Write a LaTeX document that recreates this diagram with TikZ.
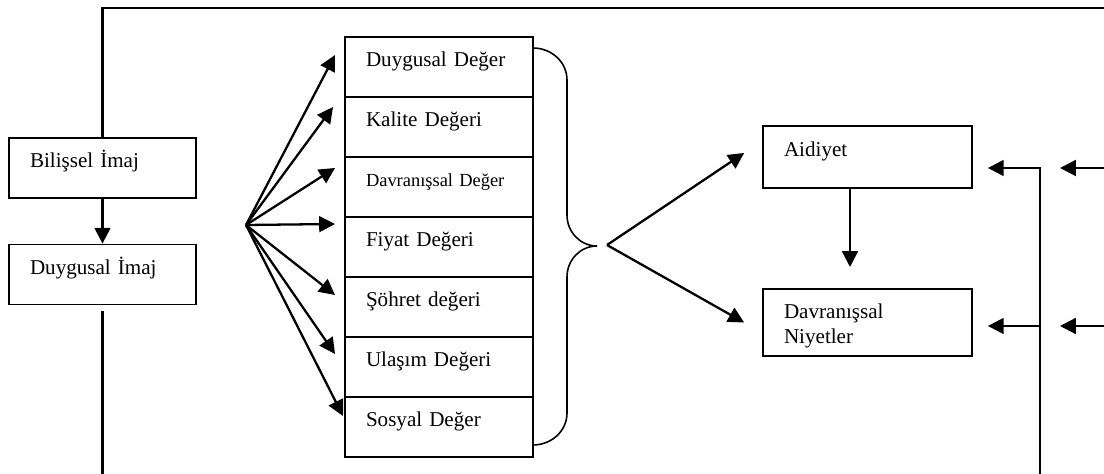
\documentclass[tikz,border=0pt]{standalone}
\usepackage{fontspec}
\setmainfont{Liberation Serif}
\usetikzlibrary{arrows.meta, positioning, calc}

\begin{document}
\begin{tikzpicture}[
    every node/.style={font=\fontsize{12}{13.8}\selectfont},
    imgbox/.style={rectangle, draw, line width=1pt, inner xsep=0.42cm, align=left, text width=2.9cm, minimum height=1.2cm, text height=0.3cm, text depth=0.3cm},
    valbox/.style={imgbox, text width=2.92cm, outer sep=0pt},
    outbox/.style={rectangle, draw, line width=1pt, inner xsep=0.42cm, align=left, text width=3.34cm},
    arr/.style={-{Triangle[length=9pt, width=9pt]}, line width=1.3pt},
    link/.style={line width=1.3pt}
]
\useasboundingbox (0,0) rectangle (22.08,-9.48);

% image boxes
\node[imgbox] (bil) at (2.05,-3.36) {Bilişsel İmaj};
\node[imgbox] (duy) at (2.05,-5.49) {Duygusal İmaj};

% value stack
\node[valbox] (dd) at (8.78,-1.34) {Duygusal Değer};
\node[valbox, below=0pt of dd] (kd) {Kalite Değeri};
\node[valbox, below=0pt of kd, font=\fontsize{10.5}{12}\selectfont] (dav) {Davranışsal Değer};
\node[valbox, below=0pt of dav] (fd) {Fiyat Değeri};
\node[valbox, below=0pt of fd] (sd) {Şöhret değeri};
\node[valbox, below=0pt of sd] (ud) {Ulaşım Değeri};
\node[valbox, below=0pt of ud] (sos) {Sosyal Değer};

% outcomes
\node[outbox, minimum height=1.24cm, text height=0.3cm, text depth=0.3cm] (aid) at (17.35,-3.14) {Aidiyet};
\node[outbox, minimum height=1.34cm, text height=0.43cm, text depth=0.57cm] (niy) at (17.35,-6.45) {Davranışsal\\Niyetler};

\coordinate (fan) at (4.92,-4.5);
\coordinate (bt) at (12.14,-4.9);
\coordinate (topR) at (22.08,-0.16);
\coordinate (botL) at (2.05,-9.48);
\coordinate (fb) at (20.8,-9.48);
\coordinate (aidtip) at (17.0,-5.34);
\coordinate (aidin) at ($(aid.east)+(0.3,-0.22)$);
\coordinate (niyin) at ($(niy.east)+(0.3,-0.07)$);
\coordinate (aidout) at (21.2,-3.36);
\coordinate (niyout) at (21.2,-6.52);

% loop lines
\draw[link] (bil.north) |- (topR);
\draw[arr] (bil) -- (duy);
\draw[link] ([yshift=-0.12cm]duy.south) -- (botL);

% fan
\draw[arr] (fan) -- ([xshift=-0.2cm, yshift=0.24cm]dd.west);
\draw[arr] (fan) -- ([xshift=-0.24cm, yshift=0.4cm]kd.west);
\draw[arr] (fan) -- ([xshift=-0.2cm, yshift=0.38cm]dav.west);
\draw[arr] (fan) -- ([xshift=-0.2cm, yshift=0.46cm]fd.west);
\draw[arr] (fan) -- ([xshift=-0.2cm, yshift=0.24cm]sd.west);
\draw[arr] (fan) -- ([xshift=-0.2cm, yshift=0.26cm]ud.west);
\draw[arr] (fan) -- ([xshift=-0.04cm, yshift=0.22cm]sos.west);

% brace
\draw[line width=0.9pt] (10.66,-0.96) to[out=0, in=90] (11.34,-1.6) -- (11.34,-4.3)
    to[out=-90, in=180] (11.94,-4.92) to[out=180, in=90] (11.34,-5.54) -- (11.34,-8.26)
    to[out=-90, in=0] (10.66,-8.9);

\draw[arr] (bt) -- ([xshift=-0.36cm, yshift=0.08cm]aid.west);
\draw[arr] (bt) -- ([xshift=-0.36cm]niy.west);
\draw[arr] (aidtip |- aid.south) -- (aidtip);

% feedback
\draw[arr] (fb) |- (aidin);
\draw[arr] (fb |- niyin) -- (niyin);
\draw[arr] (topR |- aidout) -- (aidout);
\draw[arr] (topR |- niyout) -- (niyout);
\end{tikzpicture}
\end{document}
